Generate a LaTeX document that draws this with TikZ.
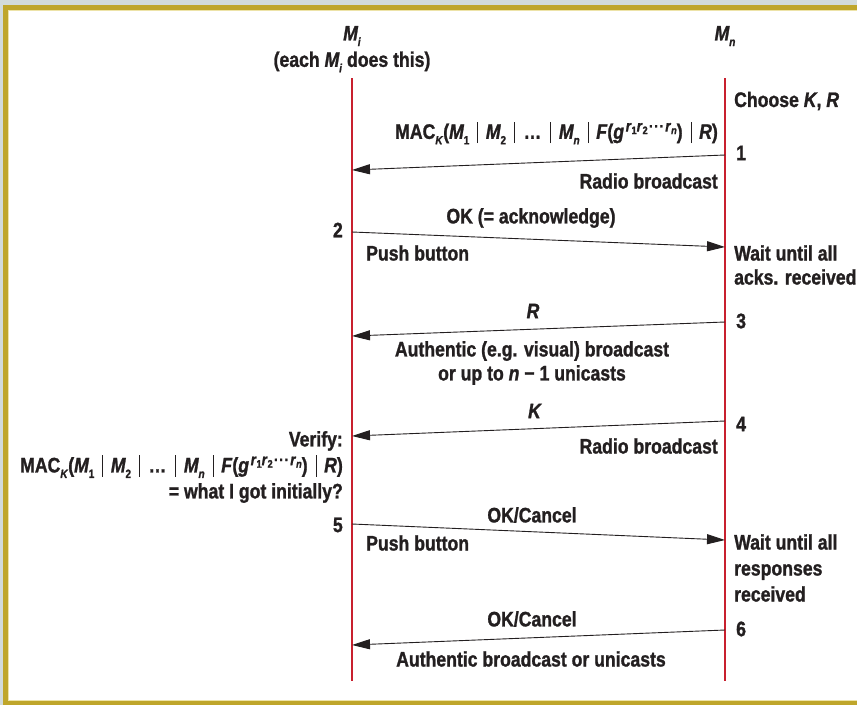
\documentclass[tikz,border=0pt]{standalone}
\usepackage{fontspec}
\setmainfont{Liberation Sans}[FakeStretch=0.84, BoldFeatures={FakeBold=1.2}, BoldItalicFeatures={FakeBold=1.2}]
\usetikzlibrary{arrows.meta}
\definecolor{bggray}{HTML}{D2DBDA}
\definecolor{gold}{HTML}{BFA62B}
\definecolor{paleg}{HTML}{EDE3A8}
\definecolor{life}{HTML}{C8202E}
\definecolor{ink}{HTML}{231F20}
\newcommand\subx[1]{\raisebox{-0.5ex}{\fontsize{12}{12}\selectfont #1}}
\newcommand\Mx[1]{\textit{M}\kern-0.02em\subx{#1}}
\newcommand\vsep{\kern0.38em\textnormal{\rule[-0.2em]{0.6pt}{1.02em}}\kern0.38em}
\newcommand\sss[1]{\raisebox{-0.3ex}{\fontsize{11}{11}\selectfont #1}}
\newcommand\gpow{\textit{g}\kern0.08em\raisebox{0.65ex}{\fontsize{16}{16}\selectfont\textit{r}\sss{1}\textit{r}\sss{2}\kern0.08em\textperiodcentered\kern0.05em\textperiodcentered\kern0.05em\textperiodcentered\kern0.08em\textit{r}\sss{\textit{n}}}}
\newcommand\MAC{MAC\subx{\textit{K}}(\Mx{1}\vsep\Mx{2}\vsep\kern0.05em\dots\kern0.05em\vsep\Mx{\textit{n}}\vsep\textit{F}(\gpow)\vsep\textit{R})}
\begin{document}
\begin{tikzpicture}[x=1pt,y=-1pt,
  every node/.style={font=\fontsize{21}{24}\selectfont\bfseries, text=ink, inner sep=0pt},
  lifeline/.style={draw=life, line width=2pt},
  msg/.style={draw=ink, line width=0.9pt, -{Triangle[length=18pt,width=10pt]}},
  lbl/.style={align=left, anchor=west},
  rlbl/.style={align=right, anchor=east},
  clbl/.style={align=center}]
\useasboundingbox (0,0) rectangle (857,705);
\fill[bggray] (0,0) rectangle (857,705);
\fill[gold] (3,5) rectangle (857,705);
\fill[paleg] (8,10) rectangle (857,701);
\fill[white] (9,11) rectangle (857,700);
% headers
\node (Mi) at (352,36) {\Mx{\textit{i}}};
\node (Mieach) at (352,62) {(each \Mx{\textit{i}} does this)};
\node (Mn) at (725,36) {\Mx{\textit{n}}};
% lifelines
\coordinate (Lt) at (352,78);
\coordinate (Lb) at (352,681);
\coordinate (Rt) at (725,78);
\coordinate (Rb) at (725,681);
\draw[lifeline] (Lt) -- (Lb);
\draw[lifeline] (Rt) -- (Rb);
% step 1
\node[lbl] (choose) at (734,101) {Choose \textit{K}, \textit{R}};
\node[rlbl] (mac1) at (718,133) {\MAC};
\coordinate (r1) at (725,155);
\coordinate (l1) at (352,170);
\draw[msg] (r1) -- (l1);
\node[lbl] (n1) at (736,153) {1};
\node[rlbl] (rb1) at (718,181) {Radio broadcast};
% step 2
\node[rlbl] (n2) at (343,230) {2};
\coordinate (l2) at (352,232);
\coordinate (r2) at (725,247);
\draw[msg] (l2) -- (r2);
\node[clbl] (ok2) at (531,218) {OK (= acknowledge)};
\node[lbl] (push2) at (366,253) {Push button};
\node[lbl] (wait2) at (734,265) {Wait until all\\acks. received};
% step 3
\coordinate (r3) at (725,322);
\coordinate (l3) at (352,336);
\draw[msg] (r3) -- (l3);
\node[clbl] (R3) at (533,311) {\textit{R}};
\node[lbl] (n3) at (736,321) {3};
\node[clbl] (auth3) at (532,363) {Authentic (e.g. visual) broadcast\\or up to \textit{n} − 1 unicasts};
% step 4
\coordinate (r4) at (725,421);
\coordinate (l4) at (352,436);
\draw[msg] (r4) -- (l4);
\node[clbl] (K4) at (535,411) {\textit{K}};
\node[lbl] (n4) at (736,424) {4};
\node[rlbl] (rb4) at (718,446) {Radio broadcast};
\node[rlbl, font=\fontsize{21}{26}\selectfont\bfseries] (verify) at (343,467) {Verify:\\\MAC\\= what I got initially?};
% step 5
\node[rlbl] (n5) at (343,525) {5};
\coordinate (l5) at (352,524);
\coordinate (r5) at (725,540);
\draw[msg] (l5) -- (r5);
\node[clbl] (ok5) at (532,515) {OK/Cancel};
\node[lbl] (push5) at (366,543) {Push button};
\node[lbl, font=\fontsize{21}{26}\selectfont\bfseries] (wait5) at (734,568) {Wait until all\\responses\\received};
% step 6
\coordinate (r6) at (725,630);
\coordinate (l6) at (352,645);
\draw[msg] (r6) -- (l6);
\node[clbl] (ok6) at (532,619) {OK/Cancel};
\node[lbl] (n6) at (736,629) {6};
\node[clbl] (auth6) at (531,659) {Authentic broadcast or unicasts};
\end{tikzpicture}
\end{document}
